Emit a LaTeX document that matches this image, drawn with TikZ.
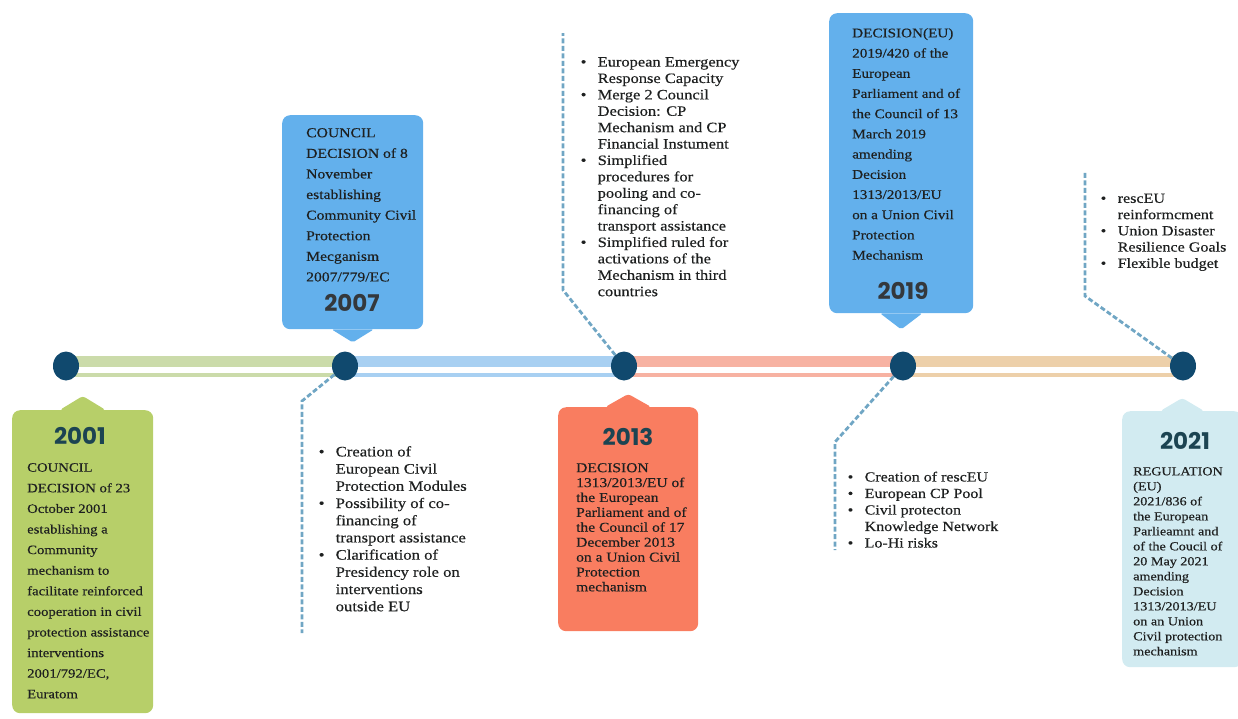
\documentclass[tikz,border=0pt]{standalone}
\usepackage{fontspec}
\setmainfont{Liberation Serif}[FakeStretch=1.15, FakeBold=0.4]
\newfontfamily\yearfont{Poppins}
\usetikzlibrary{shapes.geometric}
\usetikzlibrary{positioning}
\definecolor{mygreen}{RGB}{183,207,105}
\definecolor{myblue}{RGB}{99,176,236}
\definecolor{mysalmon}{RGB}{249,125,96}
\definecolor{mypale}{RGB}{210,235,241}
\definecolor{mynavy}{RGB}{16,73,110}
\definecolor{bargreen}{RGB}{203,219,170}
\definecolor{barblue}{RGB}{168,208,242}
\definecolor{barsalmon}{RGB}{247,178,162}
\definecolor{bartan}{RGB}{237,208,170}
\definecolor{mydash}{RGB}{112,166,196}
\definecolor{myteal}{RGB}{28,68,82}
\definecolor{mydark}{RGB}{52,56,60}
\definecolor{mytext}{RGB}{30,32,32}
\newcommand\mybul{\makebox[17pt][l]{\textbullet}}
\newcommand\myind{\makebox[17pt]{}}
\newcommand\myfont[2]{\fontsize{#1}{#2}\selectfont}

\begin{document}
\begin{tikzpicture}[x=1pt, y=-1pt,
dot/.style={ellipse, fill=mynavy, minimum width=26pt, minimum height=29pt, inner sep=0},
box/.style={rounded corners=8pt, inner sep=0, anchor=north west},
year/.style={font=\yearfont\bfseries\myfont{23}{26}, inner sep=0},
body/.style={align=left, inner sep=0, anchor=north west, text=mytext},
dashline/.style={draw=mydash, line width=2.8pt, dash pattern=on 5pt off 2.5pt}
]
\useasboundingbox (0,0) rectangle (1238,718);

% boxes and their pointers
\node[box, fill=mygreen, minimum width=141pt, minimum height=303pt] (b2001) at (12,410) {};
\fill[mygreen, rounded corners=3pt] ([xshift=-23pt]b2001.north) -- ([yshift=14pt]b2001.north) -- ([xshift=23pt]b2001.north) -- cycle;
\node[box, fill=myblue, minimum width=141pt, minimum height=214pt] (b2007) at (282,115) {};
\fill[myblue, rounded corners=2pt] ([xshift=-21pt]b2007.south) -- ([yshift=-13pt]b2007.south) -- ([xshift=21pt]b2007.south) -- cycle;
\node[box, fill=mysalmon, minimum width=140pt, minimum height=224pt] (b2013) at (558,407) {};
\fill[mysalmon, rounded corners=3pt] ([xshift=-23pt]b2013.north) -- ([yshift=13pt]b2013.north) -- ([xshift=23pt]b2013.north) -- cycle;
\node[box, fill=myblue, minimum width=144pt, minimum height=300pt] (b2019) at (829,13) {};
\fill[myblue, rounded corners=2pt] ([xshift=-21pt]b2019.south) -- ([yshift=-16pt]b2019.south) -- ([xshift=21pt]b2019.south) -- cycle;
\node[box, fill=mypale, minimum width=120pt, minimum height=256pt] (b2021) at (1122,411) {};
\fill[mypale, rounded corners=3pt] ([xshift=-22pt]b2021.north) -- ([yshift=13pt]b2021.north) -- ([xshift=22pt]b2021.north) -- cycle;

% timeline
\foreach \xa/\xb/\col in {66/345/bargreen, 345/624/barblue, 624/903/barsalmon, 903/1183/bartan}{
  \fill[\col] (\xa,356) rectangle (\xb,367);
  \fill[\col] (\xa,373) rectangle (\xb,377);
}
\foreach \n/\x in {c2001/66, c2007/345, c2013/624, c2019/903, c2021/1183}
  \node[dot] (\n) at (\x,366) {};

% years
\node[year, text=myteal] (y2001) at (80,436) {2001};
\node[year, text=mydark] (y2007) at (352,303) {2007};
\node[year, text=myteal] (y2013) at (628,437) {2013};
\node[year, text=mydark] (y2019) at (903,291) {2019};
\node[year, text=myteal] (y2021) at (1185,441) {2021};

% decisions
\node[body, font=\myfont{12.8}{20.6}] (t2001) at (27,463) {COUNCIL\\DECISION of 23\\October 2001\\establishing a\\Community\\mechanism to\\facilitate reinforced\\cooperation in civil\\protection assistance\\interventions\\2001/792/EC,\\Euratom};
\node[body, font=\myfont{13.6}{20.6}] (t2007) at (306,128) {COUNCIL\\DECISION of 8\\November\\establishing\\Community Civil\\Protection\\Mecganism\\2007/779/EC};
\node[body, font=\myfont{13.5}{14.9}] (t2013) at (576,463) {DECISION\\1313/2013/EU of\\the European\\Parliament and of\\the Council of 17\\December 2013\\on a Union Civil\\Protection\\mechanism};
\node[body, font=\myfont{13.2}{20.2}] (t2019) at (852,28) {DECISION(EU)\\2019/420 of the\\European\\Parliament and of\\the Council of 13\\March 2019\\amending\\Decision\\1313/2013/EU\\on a Union Civil\\Protection\\Mechanism};
\node[body, font=\myfont{12.3}{15}] (t2021) at (1133,467) {REGULATION\\(EU)\\2021/836 of\\the European\\Parlieamnt and\\of the Coucil of\\20 May 2021\\amending\\Decision\\1313/2013/EU\\on an Union\\Civil protection\\mechanism};

% bullet lists
\node[body, font=\myfont{14.5}{17.2}] (l2007) at (318.5,446) {\mybul Creation of\\\myind European Civil\\\myind Protection Modules\\\mybul Possibility of co-\\\myind financing of\\\myind transport assistance\\\mybul Clarification of\\\myind Presidency role on\\\myind interventions\\\myind outside EU};
\node[body, font=\myfont{14.3}{16.4}] (l2013) at (580.5,57) {\mybul European Emergency\\\myind Response Capacity\\\mybul Merge 2 Council\\\myind Decision: CP\\\myind Mechanism and CP\\\myind Financial Instument\\\mybul Simplified\\\myind procedures for\\\myind pooling and co-\\\myind financing of\\\myind transport assistance\\\mybul Simplified ruled for\\\myind activations of the\\\myind Mechanism in third\\\myind countries};
\node[body, font=\myfont{13.9}{16.5}] (l2019) at (847.5,471.5) {\mybul Creation of rescEU\\\mybul European CP Pool\\\mybul Civil protecton\\\myind Knowledge Network\\\mybul Lo-Hi risks};
\node[body, font=\myfont{14}{16.25}] (l2021) at (1100.5,193.5) {\mybul rescEU\\\myind reinformcment\\\mybul Union Disaster\\\myind Resilience Goals\\\mybul Flexible budget};

% dashed leaders
\coordinate (k2007) at (302,401);
\coordinate (e2007) at (302,633);
\coordinate (k2013) at (563,290);
\coordinate (e2013) at (563,33);
\coordinate (k2019) at (835,442);
\coordinate (e2019) at (835,550);
\coordinate (k2021) at (1085,296);
\coordinate (e2021) at (1085,172);
\draw[dashline] (c2007) -- (k2007) -- (e2007);
\draw[dashline] (c2013) -- (k2013) -- (e2013);
\draw[dashline] (c2019) -- (k2019) -- (e2019);
\draw[dashline] (c2021) -- (k2021) -- (e2021);
\end{tikzpicture}
\end{document}
